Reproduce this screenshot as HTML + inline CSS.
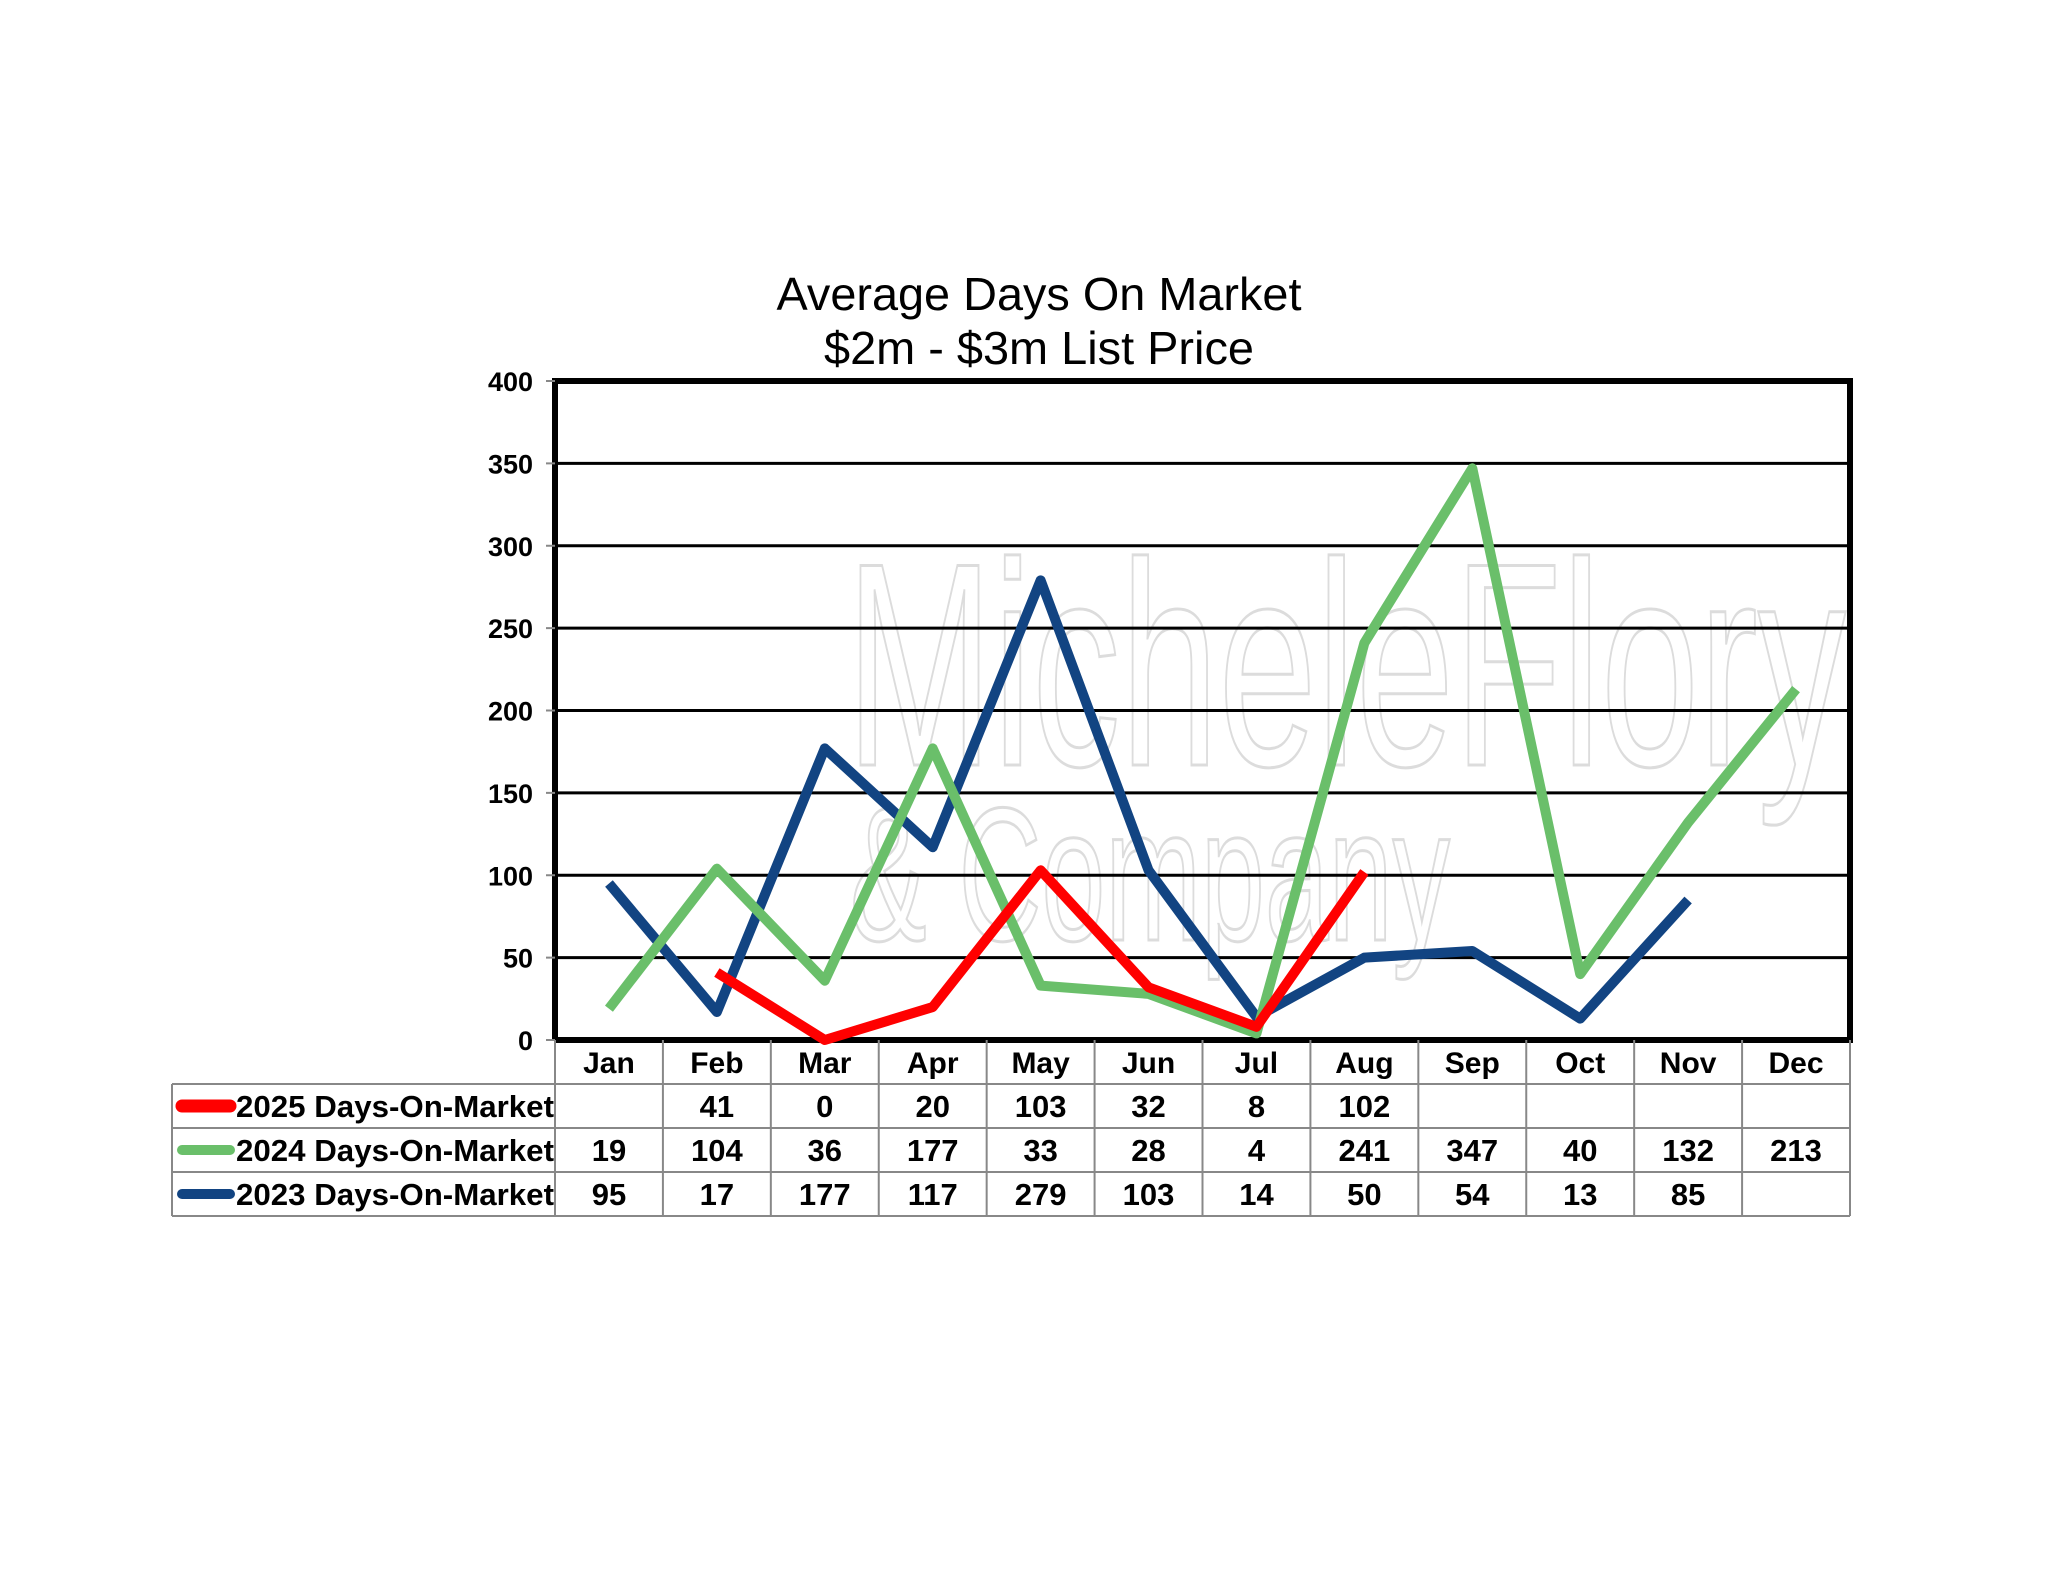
<!DOCTYPE html>
<html><head><meta charset="utf-8"><style>
html,body{margin:0;padding:0;background:#fff;}
svg{display:block;font-family:"Liberation Sans",Arial,sans-serif;}
</style></head><body>
<svg id="c" width="2048" height="1583" viewBox="0 0 2048 1583" xmlns="http://www.w3.org/2000/svg">
<g fill="none" stroke="#dcdcdc" stroke-width="3" font-size="290">
<text x="1346" y="765" text-anchor="middle" textLength="1000" lengthAdjust="spacingAndGlyphs">MicheleFlory</text>
<text x="1150" y="940" text-anchor="middle" font-size="190" textLength="600" lengthAdjust="spacingAndGlyphs">&amp; Company</text>
</g>
<text x="1039" y="310" text-anchor="middle" font-size="46" textLength="525" lengthAdjust="spacingAndGlyphs">Average Days On Market</text>
<text x="1039" y="364" text-anchor="middle" font-size="46" textLength="430" lengthAdjust="spacingAndGlyphs">$2m - $3m List Price</text>
<g id="grid"></g><g id="ticks"></g><g id="lines"></g><g id="table"></g>
</svg>
<script>
const months=["Jan","Feb","Mar","Apr","May","Jun","Jul","Aug","Sep","Oct","Nov","Dec"];
const yTicks=[0,50,100,150,200,250,300,350,400];
const s2025=[null,41,0,20,103,32,8,102,null,null,null,null];
const s2024=[19,104,36,177,33,28,4,241,347,40,132,213];
const s2023=[95,17,177,117,279,103,14,50,54,13,85,null];
const seriesNames=["2025 Days-On-Market","2024 Days-On-Market","2023 Days-On-Market"];
const seriesColors=["#ff0000","#6abf6a","#124482"];
const NS="http://www.w3.org/2000/svg";
const L=555,R=1850,T=381,B=1040,cw=(R-L)/12;
const x=i=>L+cw*(i+0.5), y=v=>B-(v/400)*(B-T);
function el(t,a,p){const e=document.createElementNS(NS,t);for(const k in a)e.setAttribute(k,a[k]);p.appendChild(e);return e;}
const grid=document.getElementById('grid'),ticks=document.getElementById('ticks'),lines=document.getElementById('lines'),table=document.getElementById('table');
yTicks.forEach(v=>{
 if(v>0&&v<400){const g=el('line',{x1:L,x2:R,y1:y(v),y2:y(v),stroke:'#000','stroke-width':3},grid);
 
 }
 const t=el('text',{x:533,y:y(v)+10,'text-anchor':'end','font-size':27,'font-weight':'bold'},ticks);
 t.textContent=v;
 
 
 el('line',{x1:546,x2:555,y1:y(v),y2:y(v),stroke:'#888','stroke-width':2},ticks);
});
const fr=el('path',{d:`M${L} ${B}V${T}H${R}V${B}H${L}`,fill:'none',stroke:'#000','stroke-width':6},grid);


[s2025,s2024,s2023].slice().reverse().forEach((s,ri)=>{
 const si=2-ri;let d='';let pen=false;
 s.forEach((v,i)=>{if(v===null){pen=false;return;}d+=(pen?'L':'M')+x(i)+' '+y(v);pen=true;});
 const p=el('path',{d:d,fill:'none',stroke:seriesColors[si],'stroke-width':10,'stroke-linejoin':'round','stroke-linecap':'butt'},lines);
 
 
});
// table
const rows=[1040,1084,1128,1172,1216], TL=172;
const g2='#888';
el('line',{x1:L,x2:L,y1:B,y2:rows[4],stroke:g2,'stroke-width':2},table);
for(let i=1;i<=12;i++)el('line',{x1:L+cw*i,x2:L+cw*i,y1:B,y2:rows[4],stroke:g2,'stroke-width':2},table);
el('line',{x1:TL,x2:TL,y1:rows[1],y2:rows[4],stroke:g2,'stroke-width':2},table);
for(let r=1;r<=4;r++)el('line',{x1:TL,x2:R,y1:rows[r],y2:rows[r],stroke:g2,'stroke-width':2},table);
months.forEach((m,i)=>{
 const t=el('text',{x:x(i),y:1073,'text-anchor':'middle','font-size':30,'font-weight':'bold'},table);
 t.textContent=m;
 
 
});
[s2025,s2024,s2023].forEach((s,si)=>{
 const cy=(rows[si+1]+rows[si+2])/2;
 const sw=el('line',{x1:182,x2:230,y1:cy,y2:cy,stroke:seriesColors[si],'stroke-width':si==0?13:10,'stroke-linecap':'round'},table);
 
 
 const lt=el('text',{x:236,y:cy+11,'font-size':31,'font-weight':'bold',textLength:318,lengthAdjust:'spacingAndGlyphs'},table);
 lt.textContent=seriesNames[si];
 
 
 s.forEach((v,i)=>{if(v===null)return;
  const t=el('text',{x:x(i),y:cy+11,'text-anchor':'middle','font-size':31,'font-weight':'bold'},table);
  t.textContent=v;
  
  
 });
});
</script>
</body></html>
